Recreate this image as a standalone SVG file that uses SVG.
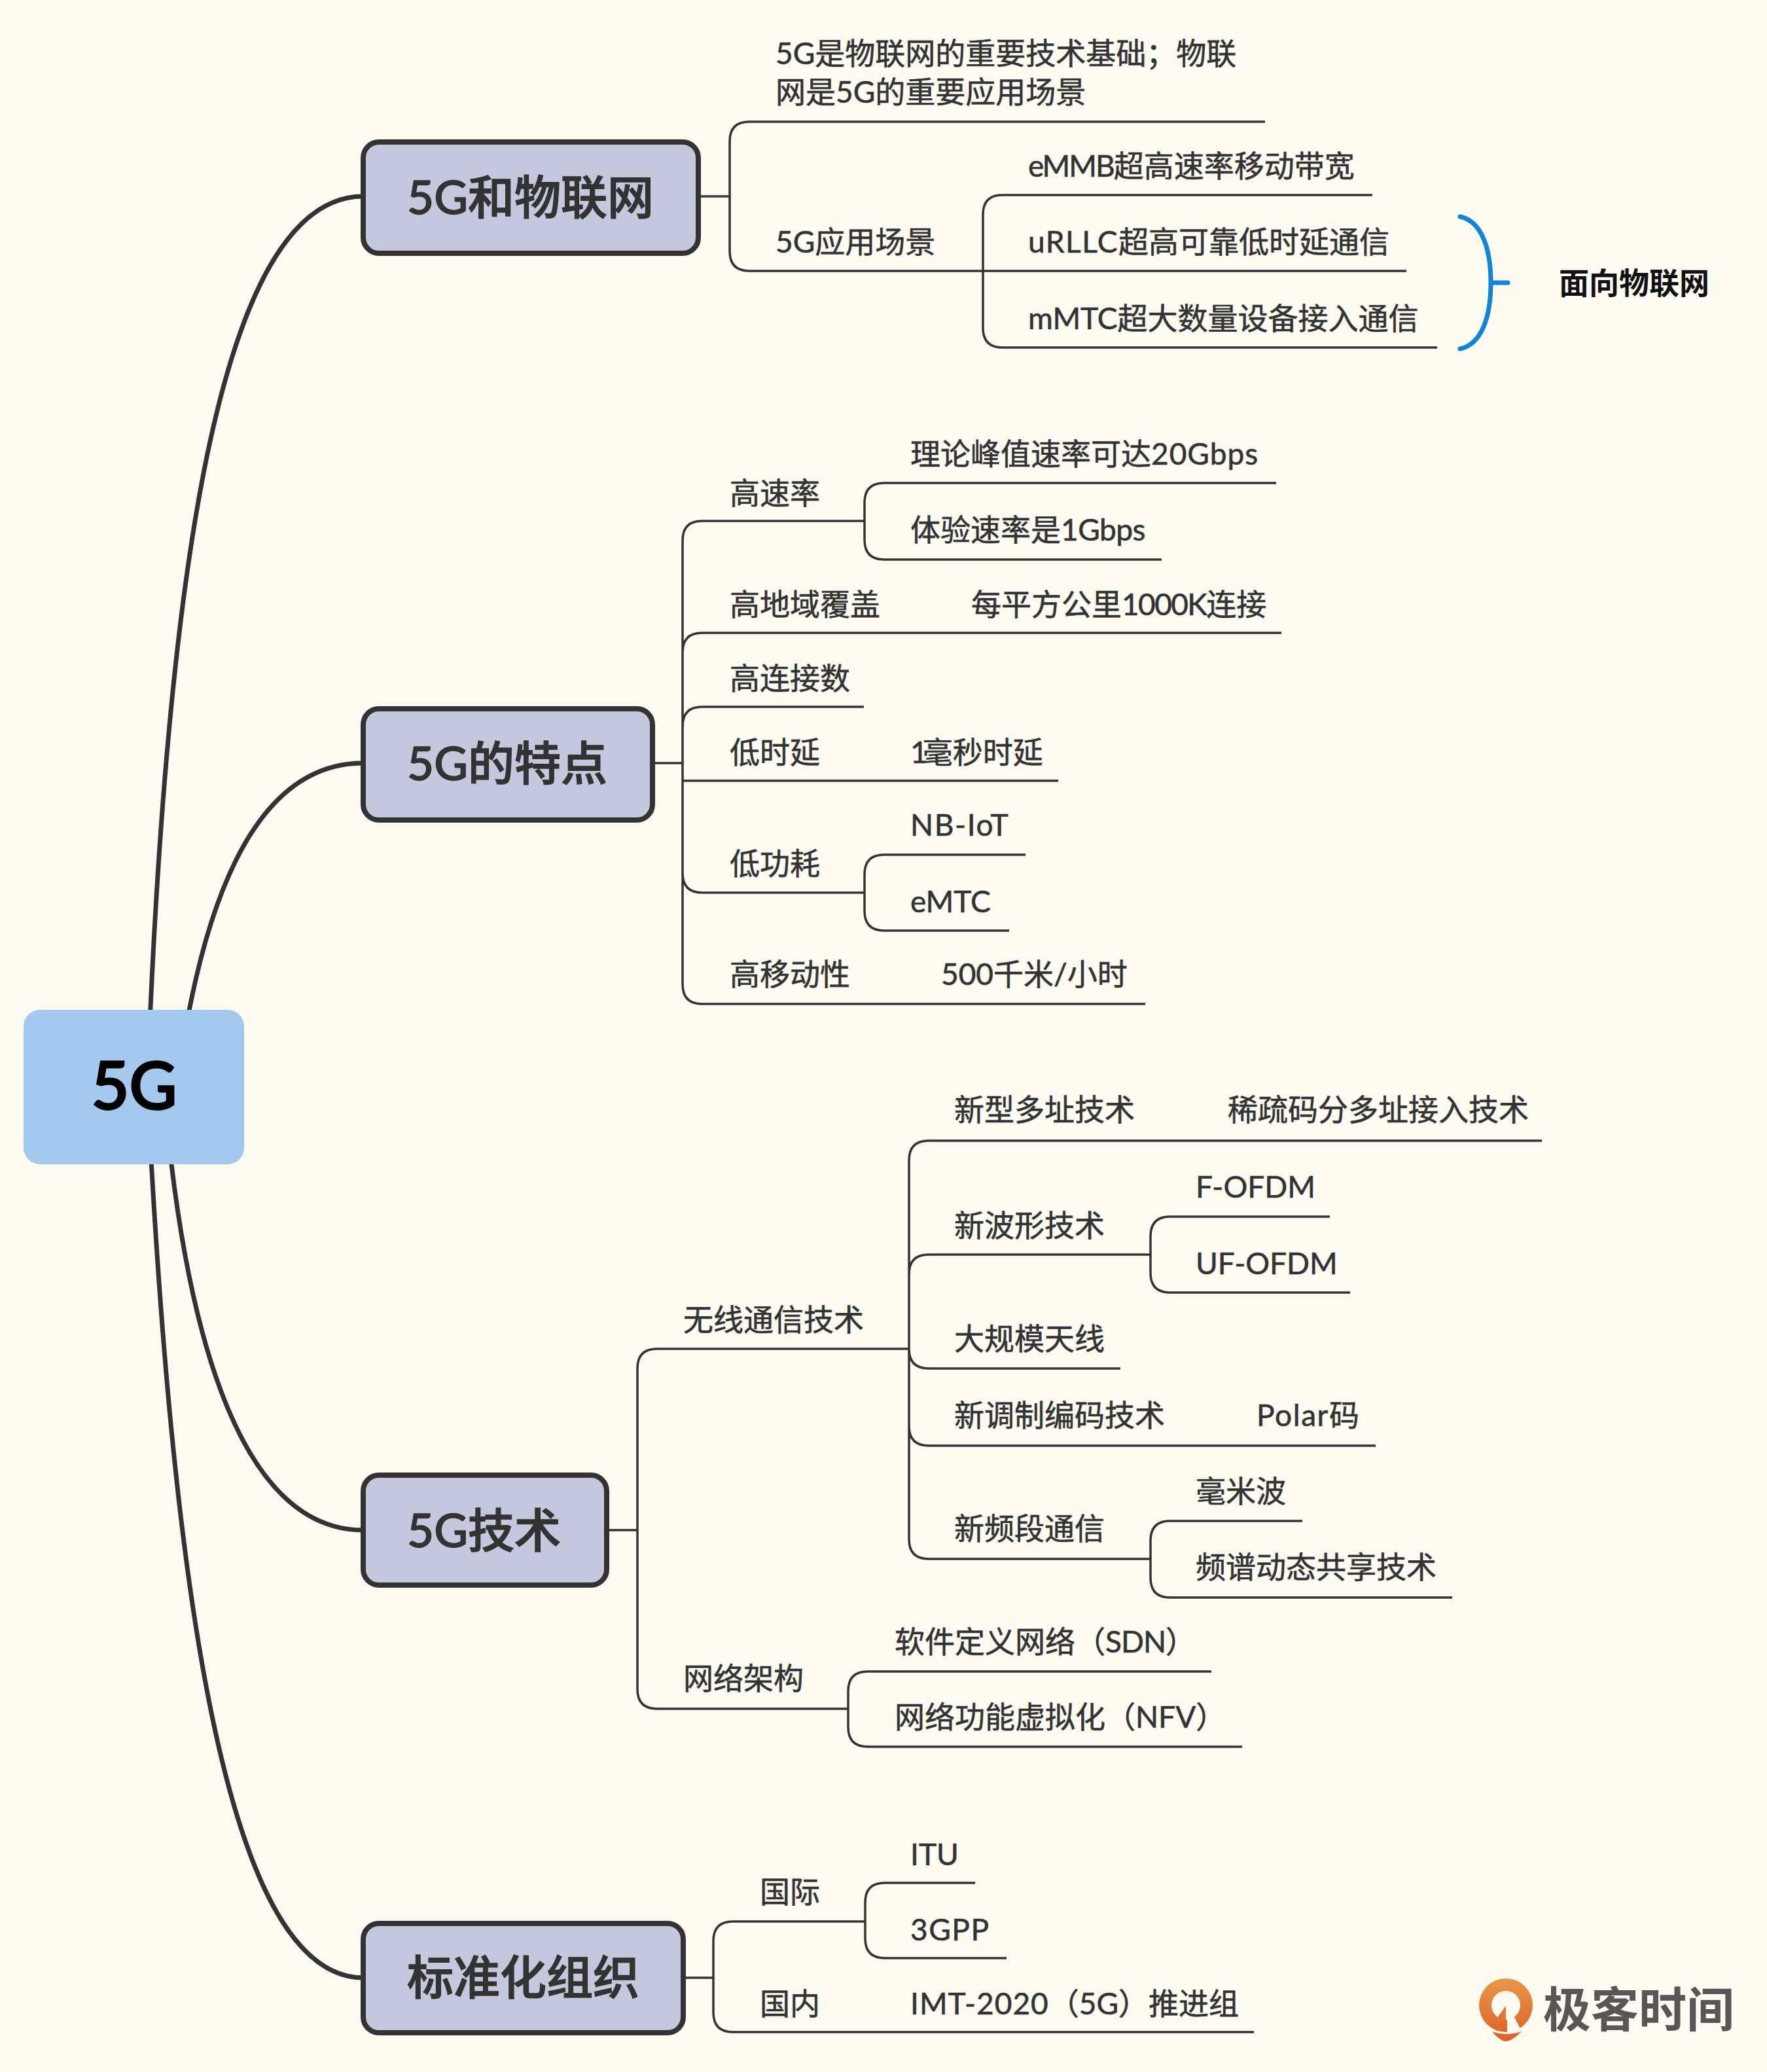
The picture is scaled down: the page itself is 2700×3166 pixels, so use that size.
<svg xmlns="http://www.w3.org/2000/svg" width="2700" height="3166" viewBox="0 0 2700 3166">
<style>
text{font-family:"Lato","Noto Sans CJK SC",sans-serif;fill:#333}
.t{font-size:46px;stroke:#333;stroke-width:.6}
.b{font-size:71px;font-weight:500;stroke:#333;stroke-width:1.4}
.r{font-size:100px;font-weight:500;fill:#000;stroke:#000;stroke-width:3;text-anchor:middle}
.box{fill:#c5c7dc;stroke:#333;stroke-width:8}
.c{fill:none;stroke:#333;stroke-width:3.5}
.m{fill:none;stroke:#333;stroke-width:7}
</style>
<defs><linearGradient id="lg" gradientUnits="userSpaceOnUse" x1="0" y1="3023" x2="0" y2="3119"><stop offset="0" stop-color="#e8974a"/><stop offset="1" stop-color="#dd5f25"/></linearGradient></defs>
<rect width="2700" height="3166" fill="#fcfaf1"/>
<g id="connectors">
<path class="m" d="M225 1660C255 850 340 300 555 300"/>
<path class="m" d="M270 1660C305 1400 380 1166 555 1166"/>
<path class="m" d="M250 1660C278 2000 355 2338 555 2338"/>
<path class="m" d="M225 1660C262 2400 340 3022 555 3022"/>
<path class="c" d="M1067 300H1115M1933 186H1145Q1115 186 1115 216V384Q1115 414 1145 414H1502M2097 298H1532Q1502 298 1502 328V501Q1502 531 1532 531H2196M1502 414H2149"/>
<path class="c" d="M997 1166H1043M1321 796H1073Q1043 796 1043 826V1504Q1043 1534 1073 1534H1750M1043 997Q1043 967 1073 967H1958M1043 1110Q1043 1080 1073 1080H1320M1043 1193H1617M1043 1334Q1043 1364 1073 1364H1321"/>
<path class="c" d="M1950 738H1351Q1321 738 1321 768V825Q1321 855 1351 855H1775M1567 1306H1351Q1321 1306 1321 1336V1392Q1321 1422 1351 1422H1542"/>
<path class="c" d="M927 2338H974M1389 2061H1004Q974 2061 974 2091V2581Q974 2611 1004 2611H1296M2356 1743H1419Q1389 1743 1389 1773V2352Q1389 2382 1419 2382H1758M1389 1947Q1389 1917 1419 1917H1758M1389 2061Q1389 2091 1419 2091H1712M1389 2179Q1389 2209 1419 2209H2102"/>
<path class="c" d="M2032 1859H1788Q1758 1859 1758 1889V1945Q1758 1975 1788 1975H2063M1990 2324H1788Q1758 2324 1758 2354V2411Q1758 2441 1788 2441H2219M1851 2554H1326Q1296 2554 1296 2584V2639Q1296 2669 1326 2669H1898"/>
<path class="c" d="M1044 3022H1090M1322 2936H1120Q1090 2936 1090 2966V3075Q1090 3105 1120 3105H1916M1490 2877H1352Q1322 2877 1322 2907V2962Q1322 2992 1352 2992H1538"/>
<path d="M2231 331C2264 338 2278 380 2278 432C2278 484 2264 526 2231 533M2278 432H2304" fill="none" stroke="#0f85d8" stroke-width="7" stroke-linecap="round"/>
</g>
<g id="root"><rect x="36" y="1543" width="337" height="236" rx="25" fill="#a5c8ee"/><text class="r" x="205" y="1695">5G</text></g>
<g id="n1"><rect class="box" x="555" y="217" width="512" height="170" rx="24"/><text class="b" x="622" y="327">5G和物联网</text></g>
<g id="n1a"><text class="t" x="1185" y="98">5G是物联网的重要技术基础；物联</text><text class="t" x="1185" y="157">网是5G的重要应用场景</text></g>
<g id="n1b"><text class="t" x="1185" y="386">5G应用场景</text></g>
<g id="n1b1"><text class="t" x="1571" y="270"><tspan style="letter-spacing:-2px">eMMB</tspan>超高速率移动带宽</text></g>
<g id="n1b2"><text class="t" x="1571" y="386"><tspan style="letter-spacing:1.5px">uRLLC</tspan>超高可靠低时延通信</text></g>
<g id="n1b3"><text class="t" x="1571" y="503">mMTC超大数量设备接入通信</text></g>
<g id="n1s"><text x="2382" y="449" style="font-size:46px;font-weight:700;fill:#111">面向物联网</text></g>
<g id="n2"><rect class="box" x="555" y="1083" width="442" height="170" rx="24"/><text class="b" x="622" y="1192">5G的特点</text></g>
<g id="n2a"><text class="t" x="1115" y="770">高速率</text></g>
<g id="n2a1"><text class="t" x="1391" y="710">理论峰值速率可达<tspan style="letter-spacing:1px">20Gbps</tspan></text></g>
<g id="n2a2"><text class="t" x="1391" y="826">体验速率是<tspan style="letter-spacing:-.5px">1Gbps</tspan></text></g>
<g id="n2b"><text class="t" x="1115" y="940">高地域覆盖</text></g>
<g id="n2b1"><text class="t" x="1484" y="940">每平方公里<tspan style="letter-spacing:-1.6px">1000K</tspan>连接</text></g>
<g id="n2c"><text class="t" x="1115" y="1053">高连接数</text></g>
<g id="n2d"><text class="t" x="1115" y="1166">低时延</text></g>
<g id="n2d1"><text class="t" x="1391" y="1166"><tspan style="letter-spacing:-8px">1</tspan>毫秒时延</text></g>
<g id="n2e"><text class="t" x="1115" y="1336">低功耗</text></g>
<g id="n2e1"><text class="t" x="1391" y="1277" style="letter-spacing:1.6px">NB-IoT</text></g>
<g id="n2e2"><text class="t" x="1391" y="1394">eMTC</text></g>
<g id="n2f"><text class="t" x="1115" y="1505">高移动性</text></g>
<g id="n2f1"><text class="t" x="1438" y="1505">500千米/小时</text></g>
<g id="n3"><rect class="box" x="555" y="2254" width="372" height="168" rx="24"/><text class="b" x="622" y="2364">5G技术</text></g>
<g id="n3a"><text class="t" x="1044" y="2033">无线通信技术</text></g>
<g id="n3a1"><text class="t" x="1458" y="1712">新型多址技术</text></g>
<g id="n3a1a"><text class="t" x="1876" y="1712">稀疏码分多址接入技术</text></g>
<g id="n3a2"><text class="t" x="1458" y="1889">新波形技术</text></g>
<g id="n3a2a"><text class="t" x="1827" y="1830">F-OFDM</text></g>
<g id="n3a2b"><text class="t" x="1827" y="1947">UF-OFDM</text></g>
<g id="n3a3"><text class="t" x="1458" y="2062">大规模天线</text></g>
<g id="n3a4"><text class="t" x="1458" y="2179">新调制编码技术</text></g>
<g id="n3a4a"><text class="t" x="1920" y="2179"><tspan style="letter-spacing:1.6px">Polar</tspan>码</text></g>
<g id="n3a5"><text class="t" x="1458" y="2352">新频段通信</text></g>
<g id="n3a5a"><text class="t" x="1827" y="2295">毫米波</text></g>
<g id="n3a5b"><text class="t" x="1827" y="2411">频谱动态共享技术</text></g>
<g id="n3b"><text class="t" x="1044" y="2581">网络架构</text></g>
<g id="n3b1"><text class="t" x="1367" y="2525">软件定义网络（<tspan style="letter-spacing:-1px">SDN</tspan>）</text></g>
<g id="n3b2"><text class="t" x="1367" y="2640">网络功能虚拟化（NFV）</text></g>
<g id="n4"><rect class="box" x="555" y="2939" width="489" height="167" rx="24"/><text class="b" x="622" y="3047">标准化组织</text></g>
<g id="n4a"><text class="t" x="1161" y="2907">国际</text></g>
<g id="n4a1"><text class="t" x="1391" y="2850">ITU</text></g>
<g id="n4a2"><text class="t" x="1391" y="2965" style="letter-spacing:1.5px">3GPP</text></g>
<g id="n4b"><text class="t" x="1161" y="3078">国内</text></g>
<g id="n4b1"><text class="t" x="1391" y="3078"><tspan style="letter-spacing:1px">IMT-2020</tspan>（5G）推进组</text></g>
<g id="logo">
<circle cx="2301" cy="3064" r="41" fill="url(#lg)"/>
<circle cx="2301" cy="3064" r="22" fill="#fcfaf1"/>
<path d="M2303 3066V3108L2324 3102L2315 3084Z" fill="#fcfaf1"/>
<path d="M2301 3065L2289 3081L2301 3102Z" fill="url(#lg)"/>
<path d="M2280 3104Q2301 3112 2325 3104Q2310 3119 2301 3119T2280 3104Z" fill="url(#lg)"/>
<text x="2358" y="3097" style="font-size:73px;font-weight:700;fill:#5a5656">极客时间</text>
</g>
</svg>
